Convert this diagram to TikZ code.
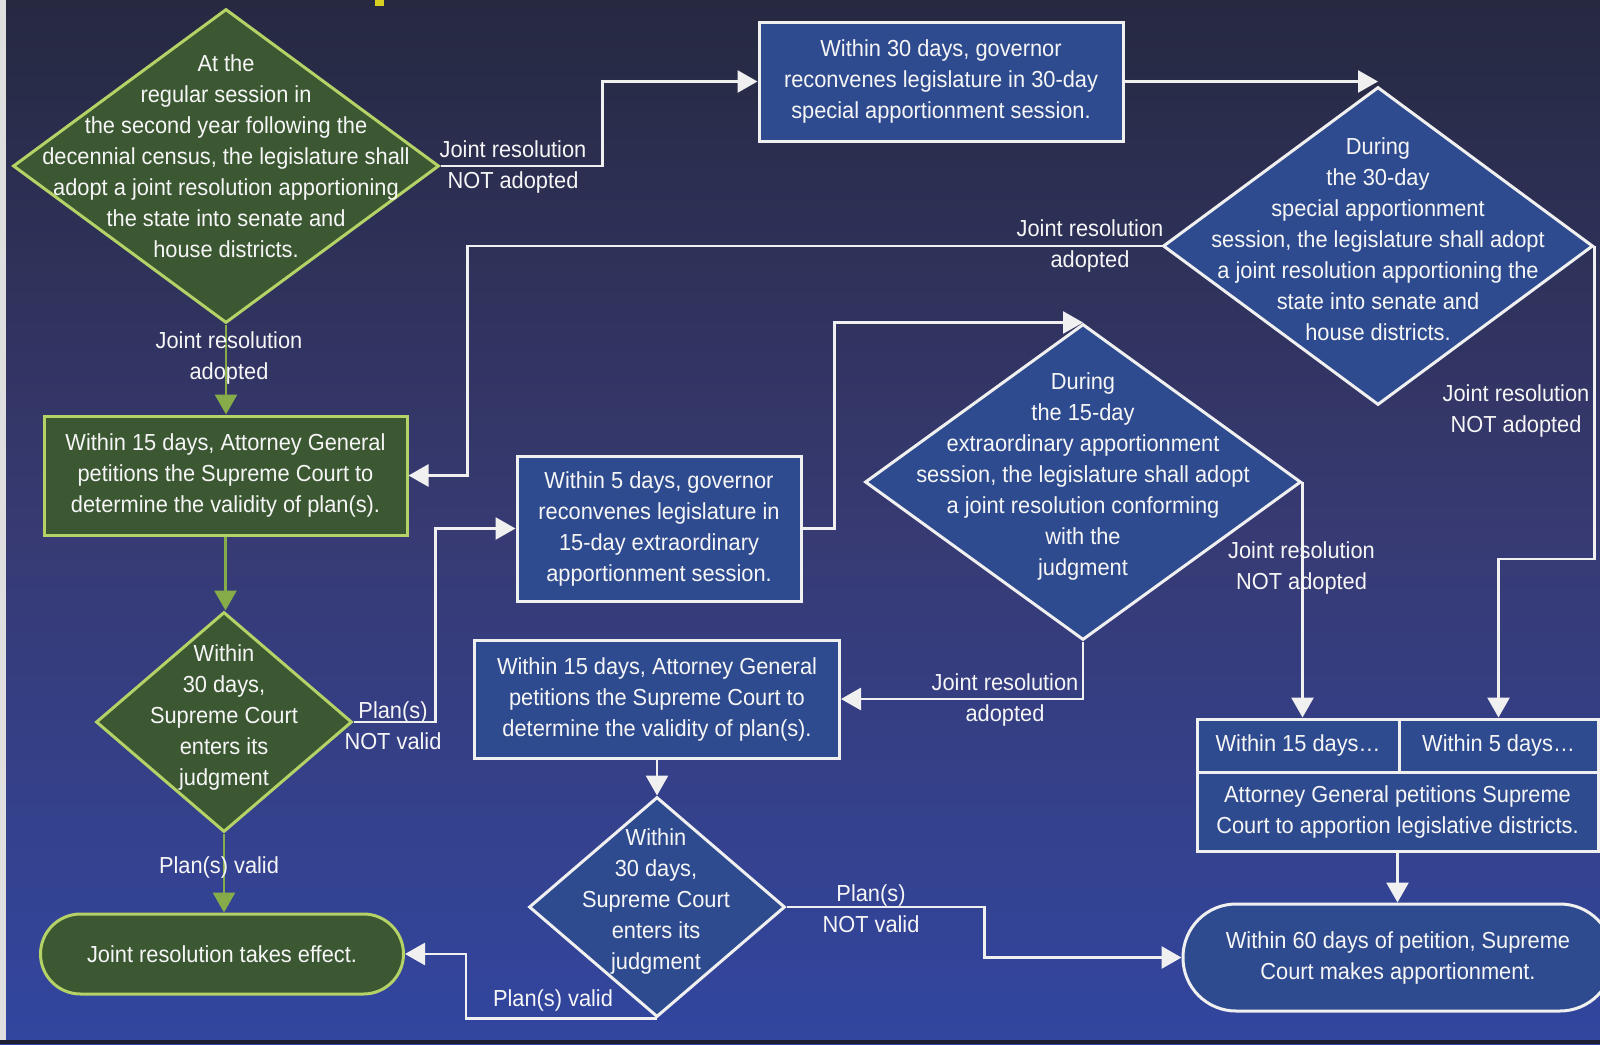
\documentclass[tikz,border=0pt]{standalone}
\usepackage{fontspec}
\setmainfont{Liberation Sans}[FakeStretch=0.94]
\usetikzlibrary{shapes.geometric,arrows.meta,calc}
\definecolor{bgtop}{HTML}{262940}
\definecolor{bgmid}{HTML}{373A72}
\definecolor{bgbot}{HTML}{3246A0}
\definecolor{bgedge}{HTML}{1C1E32}
\definecolor{gfill}{HTML}{3C5833}
\definecolor{gedge}{HTML}{B4D266}
\definecolor{gline}{HTML}{86AC4A}
\definecolor{bfill}{HTML}{2F4B8F}
\definecolor{wline}{HTML}{F0F0F0}
\definecolor{txt}{HTML}{F6F6F6}
\definecolor{titley}{HTML}{D8D020}
\tikzset{
  basefont/.style={font=\fontsize{23.2}{31}\selectfont, text=txt},
  gbox/.style={basefont, draw=gedge, fill=gfill, line width=3pt, rectangle, align=center, inner sep=0pt},
  bbox/.style={basefont, draw=wline, fill=bfill, line width=3pt, rectangle, align=center, inner sep=0pt},
  gdia/.style={draw=gedge, fill=gfill, line width=3pt, diamond, inner sep=0pt},
  bdia/.style={draw=wline, fill=bfill, line width=3pt, diamond, inner sep=0pt},
  dtext/.style={basefont, align=center, inner sep=0pt},
  elabel/.style={basefont, align=center, inner sep=0pt},
  wconn/.style={draw=wline, line width=2.8pt, -{Triangle[length=20pt,width=22pt]}},
  gconn/.style={draw=gline, line width=2.8pt, -{Triangle[length=20pt,width=22pt]}},
}
\begin{document}
\begin{tikzpicture}[x=1pt,y=-1pt]
\clip (0,0) rectangle (1600,1044);
\useasboundingbox (0,0) rectangle (1600,1044);
% background
\shade[top color=bgtop, bottom color=bgbot, middle color=bgmid] (0,0) rectangle (1600,1044);
\fill[gray!25] (0,0) rectangle (6,1044);
\fill[bgedge] (0,1040) rectangle (1600,1044);
\fill[titley] (375,0) rectangle (384,6);

% ---- nodes ----
\node[gdia, minimum width=426pt, minimum height=314pt] (d1) at (226,166) {};
\node[dtext] (d1t) at (226,156) {At the\\regular session in\\the second year following the\\decennial census, the legislature shall\\adopt a joint resolution apportioning\\the state into senate and\\house districts.};

\node[bbox, minimum width=364pt, minimum height=119pt] (box30) at (941,81.5) {Within 30 days, governor\\reconvenes legislature in 30-day\\special apportionment session.};

\node[bdia, minimum width=430pt, minimum height=318pt] (d3) at (1378,246) {};
\node[dtext] (d3t) at (1378,239) {During\\the 30-day\\special apportionment\\session, the legislature shall adopt\\a joint resolution apportioning the\\state into senate and\\house districts.};

\node[gbox, minimum width=363pt, minimum height=119pt] (box1) at (225.5,475.5) {Within 15 days, Attorney General\\petitions the Supreme Court to\\determine the validity of plan(s).};

\node[gdia, minimum width=256pt, minimum height=220pt] (d2) at (224,722) {};
\node[dtext] (d2t) at (224,717) {Within\\30 days,\\Supreme Court\\enters its\\judgment};

\node[gbox, minimum width=363pt, minimum height=80pt, rounded corners=40pt] (term1) at (222,954) {Joint resolution takes effect.};

\node[bbox, minimum width=284pt, minimum height=145pt] (box5) at (659,528.5) {Within 5 days, governor\\reconvenes legislature in\\15-day extraordinary\\apportionment session.};

\node[bdia, minimum width=436pt, minimum height=316pt] (d4) at (1083,482) {};
\node[dtext] (d4t) at (1083,476.5) {During\\the 15-day\\extraordinary apportionment\\session, the legislature shall adopt\\a joint resolution conforming\\with the\\judgment};

\node[bbox, minimum width=365pt, minimum height=118pt] (box3) at (657,699) {Within 15 days, Attorney General\\petitions the Supreme Court to\\determine the validity of plan(s).};

\node[bdia, minimum width=256pt, minimum height=220pt] (d5) at (657,907) {};
\node[dtext] (d5t) at (656,901) {Within\\30 days,\\Supreme Court\\enters its\\judgment};

\node[bbox, minimum width=202pt, minimum height=53pt] (cell1) at (1298,745.5) {Within 15 days…};
\node[bbox, minimum width=199pt, minimum height=53pt] (cell2) at (1498.5,745.5) {Within 5 days…};
\node[bbox, minimum width=401pt, minimum height=79pt] (cell3) at (1397.5,811.5) {Attorney General petitions Supreme\\Court to apportion legislative districts.};

\node[bbox, minimum width=430pt, minimum height=107pt, rounded corners=53pt] (term2) at (1398,957.5) {Within 60 days of petition, Supreme\\Court makes apportionment.};

% ---- connectors ----
\draw[wconn] (d1.east) -- ++(162,0) |- (box30.west);
\draw[wconn] (box30.east) -- (box30.east -| d3.north);
\draw[wconn] (d3.west) -| ($(box1.east)+(59,0)$) -- (box1.east);
\draw[gconn] (d1.south) -- (d1.south |- box1.north);
\draw[gconn] (box1.south) -- (box1.south |- d2.north);
\draw[wconn] (d2.east) -| ($(box5.west)+(-80,0)$) -- (box5.west);
\draw[wconn] (box5.east) -- ++(32,0) |- (d4.north);
\draw[wconn] (d4.south) |- (box3.east);
\draw[wconn] (box3.south) -- (box3.south |- d5.north);
\draw[gconn] (d2.south) -- (d2.south |- term1.north);
\draw[wconn] (d5.south) -| ($(term1.east)+(61,0)$) -- (term1.east);
\draw[wconn] (d5.east) -| ($(term2.west)+(-197,0)$) -- (term2.west);
\draw[wconn] (d4.east) -- (d4.east |- cell1.north);
\draw[wconn] (d3.east) -- ++(0,313) -| (cell2.north);
\draw[wconn] (cell3.south) -- (cell3.south |- term2.north);

% ---- connector labels ----
\node[elabel] (l1) at (513,167) {Joint resolution\\NOT adopted};
\node[elabel] (l2) at (229,358) {Joint resolution\\adopted};
\node[elabel] (l3) at (1090,245.5) {Joint resolution\\adopted};
\node[elabel] (l4) at (393,725.5) {Plan(s)\\NOT valid};
\node[elabel] (l5) at (1005,700) {Joint resolution\\adopted};
\node[elabel] (l6) at (219,867) {Plan(s) valid};
\node[elabel] (l7) at (553,1000) {Plan(s) valid};
\node[elabel] (l8) at (871,909) {Plan(s)\\NOT valid};
\node[elabel] (l9) at (1301.5,568) {Joint resolution\\NOT adopted};
\node[elabel] (l10) at (1516,411) {Joint resolution\\NOT adopted};
\end{tikzpicture}
\end{document}
